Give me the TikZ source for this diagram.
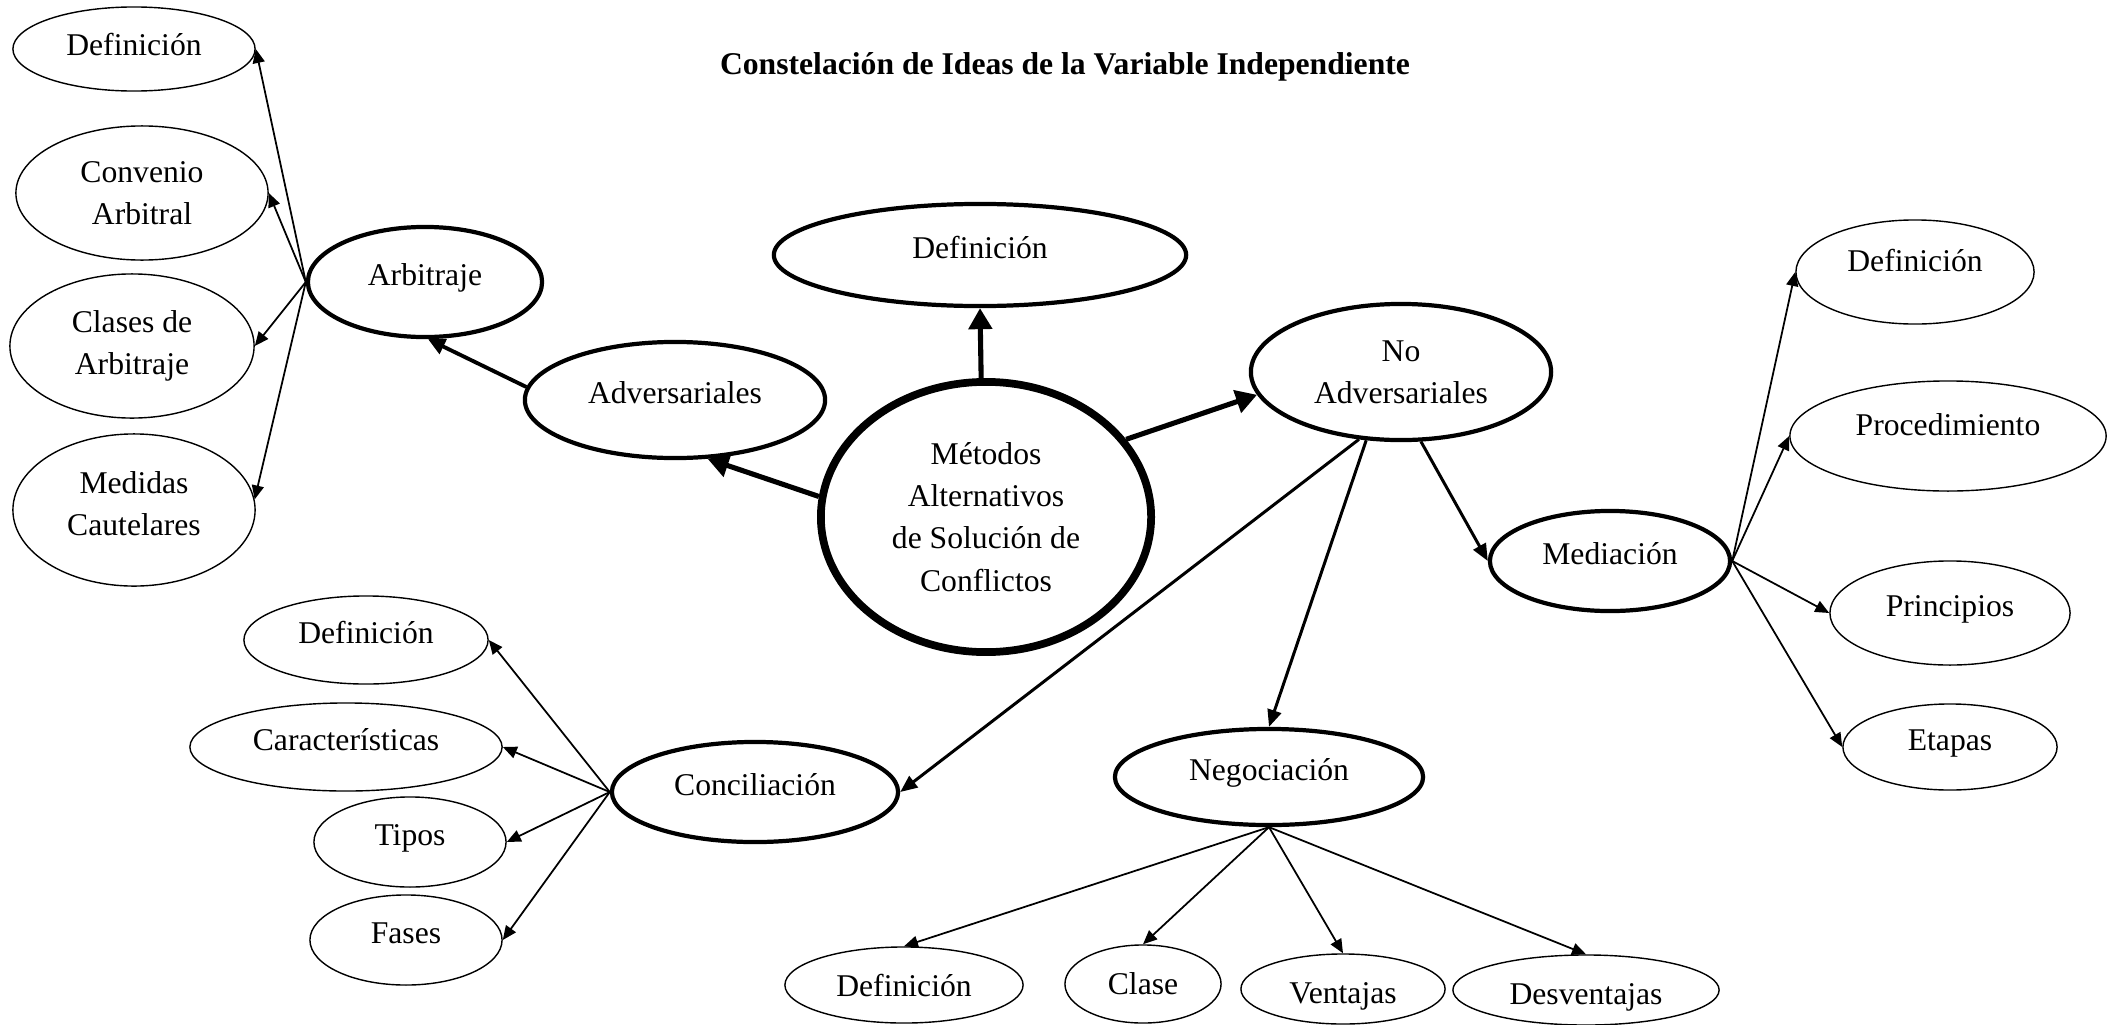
\documentclass[tikz,border=0pt]{standalone}
\usepackage{fontspec}
\setmainfont{Liberation Serif}
\usetikzlibrary{shapes.geometric,arrows.meta}
\begin{document}
\begin{tikzpicture}[x=0.01cm,y=-0.01cm,
  every node/.style={font=\fontsize{9}{12}\selectfont, align=center, inner sep=0pt},
  leaf/.style n args={2}{ellipse, draw, line width=0.4pt, minimum width=#1*0.02cm, minimum height=#2*0.02cm},
  mid/.style n args={2}{ellipse, draw, line width=1.2pt, minimum width=#1*0.02cm, minimum height=#2*0.02cm},
  core/.style n args={2}{ellipse, draw, line width=2.2pt, minimum width=#1*0.02cm, minimum height=#2*0.02cm},
  up/.style={text height=7pt, text depth=5pt},
  upmore/.style={text height=6pt, text depth=6.2pt},
  upless/.style={text height=7pt, text depth=3.4pt},
  uptwo/.style={text height=17.6pt, text depth=3pt},
  down/.style={text height=9pt, text depth=0.5pt},
  tarr/.style={line width=0.5pt, -{Triangle[length=0.14cm,width=0.12cm]}},
  marr/.style={line width=0.85pt, -{Triangle[length=0.17cm,width=0.14cm]}},
  aarr/.style={line width=1.1pt, -{Triangle[length=0.17cm,width=0.16cm]}},
  barr/.style={line width=1.45pt, -{Triangle[length=0.21cm,width=0.23cm]}}
]
\useasboundingbox (0,0) rectangle (2109,1024);

\node[font=\fontsize{9}{12}\selectfont\bfseries] (title) at (1065,67) {Constelación de Ideas de la Variable Independiente};

\node[core={165}{135}] (m) at (986,517) {Métodos\\Alternativos\\de Solución de\\Conflictos};
\node[mid={206}{51}, up] (dc) at (980,255) {Definición};
\node[mid={150}{58}, up] (adv) at (675,400) {Adversariales};
\node[mid={150}{68}] (na) at (1401,372) {No\\Adversariales};
\node[mid={117}{55}, up] (arb) at (425,282) {Arbitraje};

\node[leaf={121}{42}, upless] (a1) at (134,49) {Definición};
\node[leaf={126}{67}] (a2) at (142,193) {Convenio\\Arbitral};
\node[leaf={122}{72}] (a3) at (132,346) {Clases de\\Arbitraje};
\node[leaf={121}{76}, uptwo] (a4) at (134,510) {Medidas\\Cautelares};

\node[mid={120}{50}, up] (med) at (1610,561) {Mediación};
\node[leaf={119}{52}, upmore] (m1) at (1915,272) {Definición};
\node[leaf={158}{55}, upmore] (m2) at (1948,436) {Procedimiento};
\node[leaf={120}{52}, up] (m3) at (1950,613) {Principios};
\node[leaf={107}{43}, up] (m4) at (1950,747) {Etapas};

\node[mid={143}{50}, up] (con) at (755,792) {Conciliación};
\node[leaf={122}{44}, up] (c1) at (366,640) {Definición};
\node[leaf={156}{44}, up] (c2) at (346,747) {Características};
\node[leaf={96}{45}, up] (c3) at (410,842) {Tipos};
\node[leaf={96}{45}, up] (c4) at (406,940) {Fases};

\node[mid={154}{48}, up] (neg) at (1269,777) {Negociación};
\node[leaf={119}{38}] (n1) at (904,985) {Definición};
\node[leaf={78}{39}] (n2) at (1143,984) {Clase};
\node[leaf={102}{35}, down] (n3) at (1343,989) {Ventajas};
\node[leaf={133}{35}, down] (n4) at (1586,990) {Desventajas};

\draw[barr] (m.92) -- (dc.south);
\draw[barr] (m.173) -- (adv.-61);
\draw[barr] (m.29) -- (na.189);
\draw[aarr] (adv.175) -- (arb.-87);

\draw[tarr] (arb.west) -- (a1.east);
\draw[tarr] (arb.west) -- (a2.east);
\draw[tarr] (arb.west) -- (a3.east);
\draw[tarr] (arb.west) -- (a4.5);

\draw[marr] (na.-74) -- (med.west);
\draw[marr] (na.-117) -- (neg.north);
\draw[marr] (na.-122) -- (con.east);

\draw[tarr] (med.east) -- (m1.west);
\draw[tarr] (med.east) -- (m2.west);
\draw[tarr] (med.east) -- (m3.west);
\draw[tarr] (med.east) -- (m4.west);

\draw[tarr] (con.west) -- (c1.east);
\draw[tarr] (con.west) -- (c2.east);
\draw[tarr] (con.west) -- (c3.east);
\draw[tarr] (con.west) -- (c4.east);

\draw[tarr] (neg.south) -- (n1.north);
\draw[tarr] (neg.south) -- (n2.north);
\draw[tarr] (neg.south) -- (n3.north);
\draw[tarr] (neg.south) -- (n4.north);
\end{tikzpicture}
\end{document}
